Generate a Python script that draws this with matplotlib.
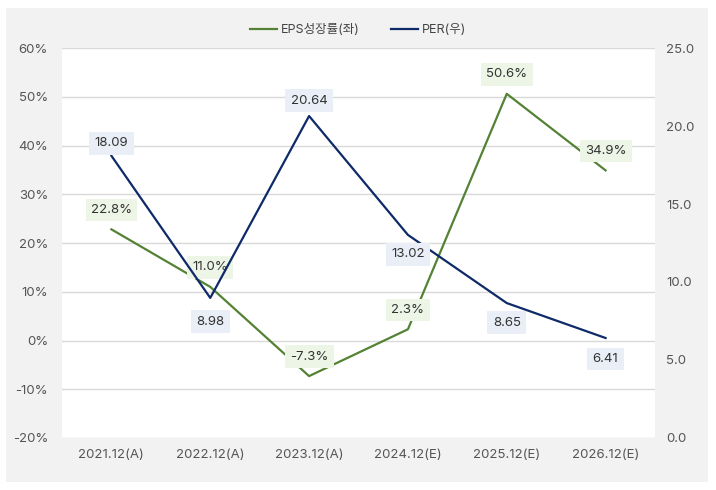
import matplotlib
matplotlib.use("Agg")
import matplotlib.pyplot as plt
from matplotlib.patches import Rectangle
from matplotlib.ticker import FuncFormatter

plt.rcParams['font.family'] = ['Inter', 'Noto Sans CJK KR', 'DejaVu Sans']

years = ['2021.12(A)', '2022.12(A)', '2023.12(A)', '2024.12(E)', '2025.12(E)', '2026.12(E)']
eps_growth = [22.8, 11.0, -7.3, 2.3, 50.6, 34.9]
per = [18.09, 8.98, 20.64, 13.02, 8.65, 6.41]

green = '#548235'
navy = '#0e2a68'
txt = '#555555'

fig = plt.figure(figsize=(7.16, 4.9), dpi=100)
fig.patches.append(Rectangle((6 / 716, 8 / 490), 702 / 716, 474 / 490,
                             transform=fig.transFigure, facecolor='#f2f2f2',
                             edgecolor='none', zorder=-10))

ax = fig.add_axes([62 / 716, 1 - 438 / 490, 593 / 716, 390 / 490])
ax2 = ax.twinx()
x = list(range(len(years)))

l1, = ax.plot(x, eps_growth, color=green, lw=1.6, zorder=3)
l2, = ax2.plot(x, per, color=navy, lw=1.6, zorder=3)

ax.set_ylim(-20, 60)
ax.set_yticks(range(-20, 61, 10))
ax.yaxis.set_major_formatter(FuncFormatter(lambda v, p: f'{v:.0f}%'))
ax2.set_ylim(0, 25)
ax2.set_yticks([0, 5, 10, 15, 20, 25])
ax2.yaxis.set_major_formatter(FuncFormatter(lambda v, p: f'{v:.1f}'))
ax.set_xlim(-0.5, 5.5)
ax.set_xticks(x)
ax.set_xticklabels(years)

ax.grid(axis='y', color='#d9d9d9', lw=1)
ax.set_axisbelow(True)
for a in (ax, ax2):
    for s in a.spines.values():
        s.set_visible(False)
    a.tick_params(length=0, labelsize=9.5, labelcolor=txt)
ax.tick_params(axis='y', pad=10)
ax2.tick_params(axis='y', pad=8)
ax.tick_params(axis='x', pad=8)

# data labels
for xi, v in zip(x, eps_growth):
    ax.annotate(f'{v:.1f}%', (xi, v), xytext=(0, 14), textcoords='offset points',
                ha='center', va='center', fontsize=9.5, color='#333333', zorder=5,
                bbox=dict(boxstyle='square,pad=0.4', fc='#edf5e7', ec='none'))
per_off = [9, -17, 11, -14, -14, -15]
for xi, v, off in zip(x, per, per_off):
    ax2.annotate(f'{v:.2f}', (xi, v), xytext=(0, off), textcoords='offset points',
                 ha='center', va='center', fontsize=9.5, color='#333333', zorder=5,
                 bbox=dict(boxstyle='square,pad=0.4', fc='#e9eef7', ec='none'))

fig.legend([l1, l2], ['EPS성장률(좌)', 'PER(우)'], loc='center',
           bbox_to_anchor=(0.5, 1 - 30 / 490), ncol=2, frameon=False,
           fontsize=9, handlelength=2.2, columnspacing=2.5, handletextpad=0.3,
           labelcolor='#444444')

fig.savefig('out.png', dpi=100, facecolor='white')
